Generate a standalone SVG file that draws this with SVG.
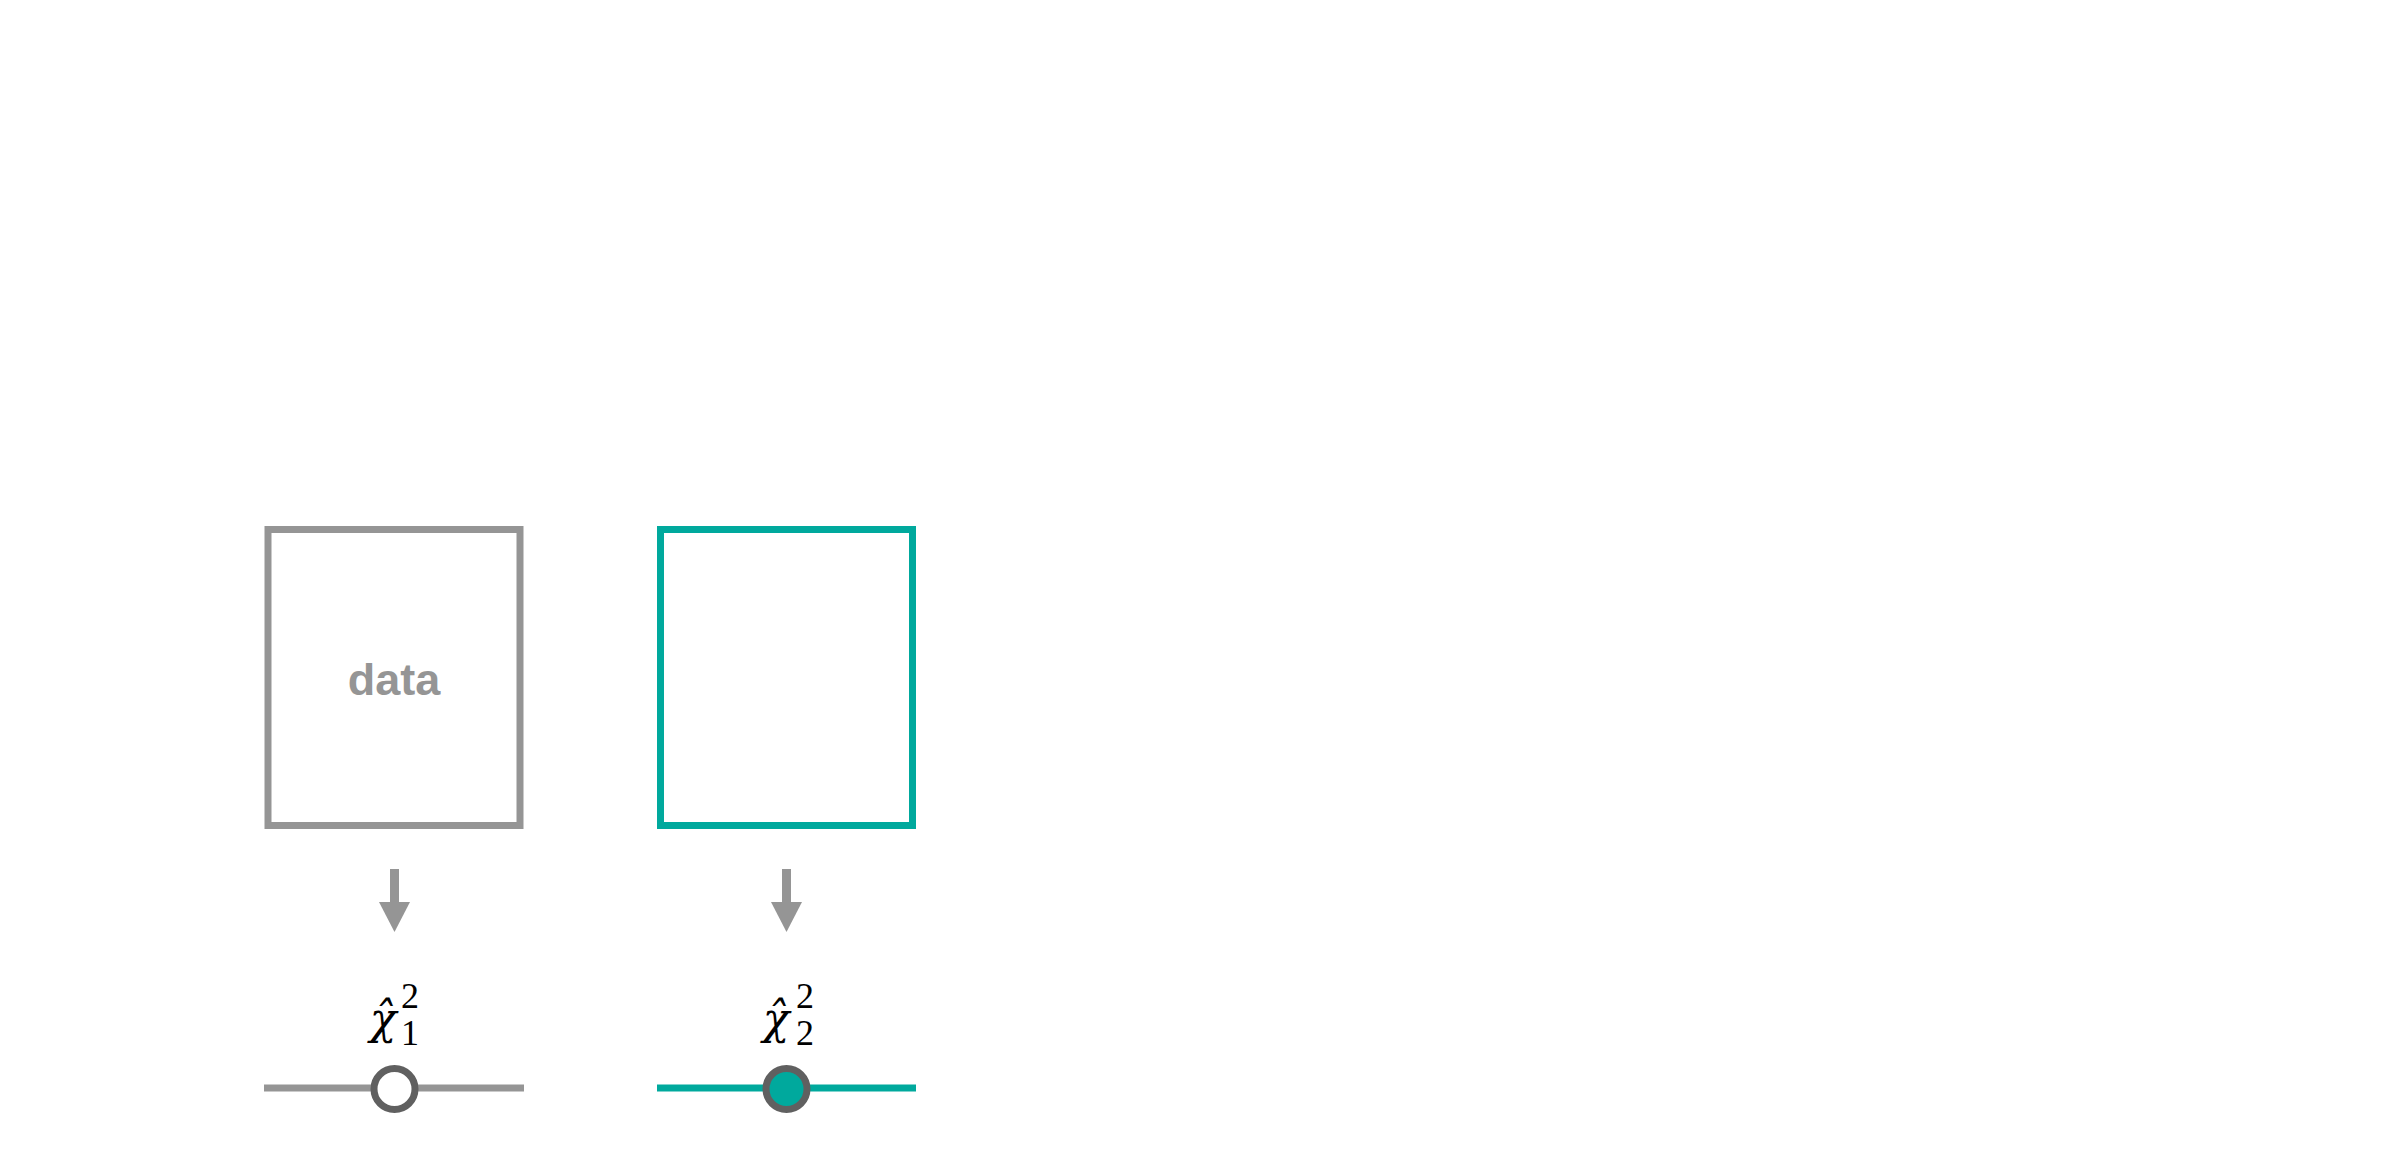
<svg xmlns="http://www.w3.org/2000/svg" width="2400" height="1150" viewBox="0 0 2400 1150">
<style>
.box-grey{fill:none;stroke:#959595;stroke-width:7}
.box-teal{fill:none;stroke:#00A99D;stroke-width:7}
.lbl{font-family:"Liberation Sans",Arial,sans-serif;font-weight:bold;font-size:45px;fill:#959595}
.chi{font-family:"DejaVu Serif","Liberation Serif",serif;font-style:italic;font-size:44px;fill:#000}
.idx{font-family:"Liberation Serif","DejaVu Serif",serif;font-size:36px;fill:#000}
.arrow-shaft{stroke:#959595;stroke-width:9}
.arrow-head{fill:#959595}
.knob{stroke:#606060;stroke-width:7}
</style>
<rect width="2400" height="1150" fill="#ffffff"/>
<g id="node-data">
<rect class="box-grey" x="268" y="529.5" width="252" height="296"/>
<text class="lbl" x="394" y="695" text-anchor="middle">data</text>
</g>
<g id="node-model">
<rect class="box-teal" x="660.5" y="529.5" width="252" height="296"/>
</g>
<g id="connectors">
<line class="arrow-shaft" x1="394.5" y1="869" x2="394.5" y2="904"/>
<polygon class="arrow-head" points="379,902 410,902 394.5,932"/>
<line class="arrow-shaft" x1="786.5" y1="869" x2="786.5" y2="904"/>
<polygon class="arrow-head" points="771,902 802,902 786.5,932"/>
</g>
<g id="node-chi1">
<text class="chi" x="383" y="1034" text-anchor="middle">χ̂</text>
<text class="idx" x="401" y="1008">2</text>
<text class="idx" x="401" y="1045">1</text>
<line x1="264" y1="1088" x2="524" y2="1088" stroke="#959595" stroke-width="7"/>
<circle class="knob" cx="394.5" cy="1089" r="20.5" fill="#ffffff"/>
</g>
<g id="node-chi2">
<text class="chi" x="776" y="1034" text-anchor="middle">χ̂</text>
<text class="idx" x="796" y="1008">2</text>
<text class="idx" x="796" y="1045">2</text>
<line x1="657" y1="1088" x2="916" y2="1088" stroke="#00A99D" stroke-width="7"/>
<circle class="knob" cx="786.5" cy="1089" r="20.5" fill="#00A99D"/>
</g>
</svg>
